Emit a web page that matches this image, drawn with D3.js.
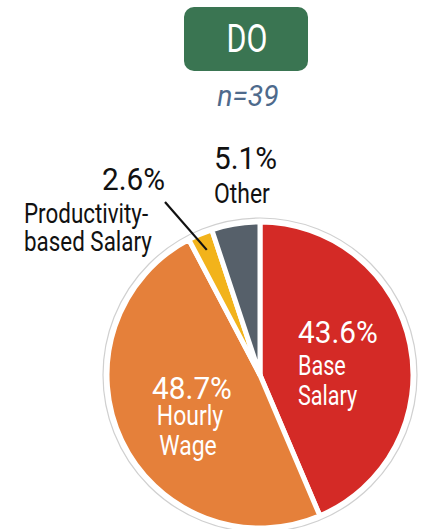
<!DOCTYPE html>
<html><head><meta charset="utf-8">
<script src="https://cdn.jsdelivr.net/npm/d3@7"></script>
<style>
html,body{margin:0;padding:0;background:#fff;}
svg{display:block;}
text{font-family:Roboto,"Noto Sans",sans-serif;}
</style></head>
<body>
<svg id="chart" width="425" height="529"></svg>
<script>
const title = "DO";
const sampleLabel = "n=39";
const categories = ["Base Salary", "Hourly Wage", "Productivity-based Salary", "Other"];
const labelLines = [["Base", "Salary"], ["Hourly", "Wage"], ["Productivity-", "based Salary"], ["Other"]];
const values = [43.6, 48.7, 2.6, 5.1];
const colors = ["#D42A26", "#E5803A", "#F2B31B", "#56606A"];

const svg = d3.select("#chart");
const cx = 260, cy = 375, R = 153;

// condensed text helper
function ctext(x, y, str, opts) {
  const g = svg.append("g").attr("transform", `translate(${x},${y}) scale(${opts.sx || 1},1)`);
  return g.append("text").attr("x", 0).attr("y", 0)
    .attr("text-anchor", opts.anchor || "start")
    .attr("fill", opts.fill || "#111")
    .attr("font-size", opts.size)
    .attr("font-style", opts.italic ? "italic" : null)
    .text(str);
}

// header
svg.append("rect").attr("x", 184).attr("y", 7).attr("width", 124).attr("height", 64)
  .attr("rx", 10).attr("fill", "#3A7552");
ctext(247, 52, title, {anchor: "middle", fill: "#fff", size: 38, sx: 0.8});
ctext(248, 106, sampleLabel, {anchor: "middle", fill: "#4E6A8C", size: 29, sx: 0.98, italic: true});

// pie
const pie = d3.pie().sort(null).value(d => d)(values);
const arc = d3.arc().innerRadius(0).outerRadius(R);
const g = svg.append("g").attr("transform", `translate(${cx},${cy})`);
g.append("circle").attr("r", R + 4).attr("fill", "none").attr("stroke", "#d0d0d0").attr("stroke-width", 1.2);
g.selectAll("path").data(pie).join("path")
  .attr("d", arc).attr("fill", (d, i) => colors[i])
  .attr("stroke", "#fff").attr("stroke-width", 5).attr("stroke-linejoin", "round");

const fmt = v => v.toFixed(1) + "%";
const PS = 31, PSX = 0.96, WS = 27, WSX = 0.8;

// Base Salary (inside, left-aligned)
ctext(298, 343, fmt(values[0]), {fill: "#fff", size: PS, sx: PSX});
ctext(298, 375, labelLines[0][0], {fill: "#fff", size: WS, sx: WSX});
ctext(298, 405, labelLines[0][1], {fill: "#fff", size: WS, sx: WSX});

// Hourly Wage (inside, centered)
ctext(192, 399, fmt(values[1]), {fill: "#fff", size: PS + 1, sx: 0.93, anchor: "middle"});
ctext(190, 425, labelLines[1][0], {fill: "#fff", size: WS + 1, sx: 0.82, anchor: "middle"});
ctext(188, 455, labelLines[1][1], {fill: "#fff", size: WS + 1, sx: 0.82, anchor: "middle"});

// Productivity-based Salary (outside)
ctext(102, 190, fmt(values[2]), {size: PS, sx: PSX});
ctext(24, 223, labelLines[2][0], {size: 28, sx: 0.8});
ctext(24, 251, labelLines[2][1], {size: 28, sx: 0.8});

// Other (outside)
ctext(214, 169, fmt(values[3]), {size: PS, sx: PSX});
ctext(214, 203, labelLines[3][0], {size: 28, sx: 0.82});

// leader line for the small slice
const a = (pie[2].startAngle + pie[2].endAngle) / 2;
const rr = R - 17;
const px = cx + Math.sin(a) * rr, py = cy - Math.cos(a) * rr;
svg.append("line").attr("x1", 102 + 63).attr("y1", 190 + 12).attr("x2", px).attr("y2", py)
  .attr("stroke", "#111").attr("stroke-width", 2.2);
</script>
</body></html>
